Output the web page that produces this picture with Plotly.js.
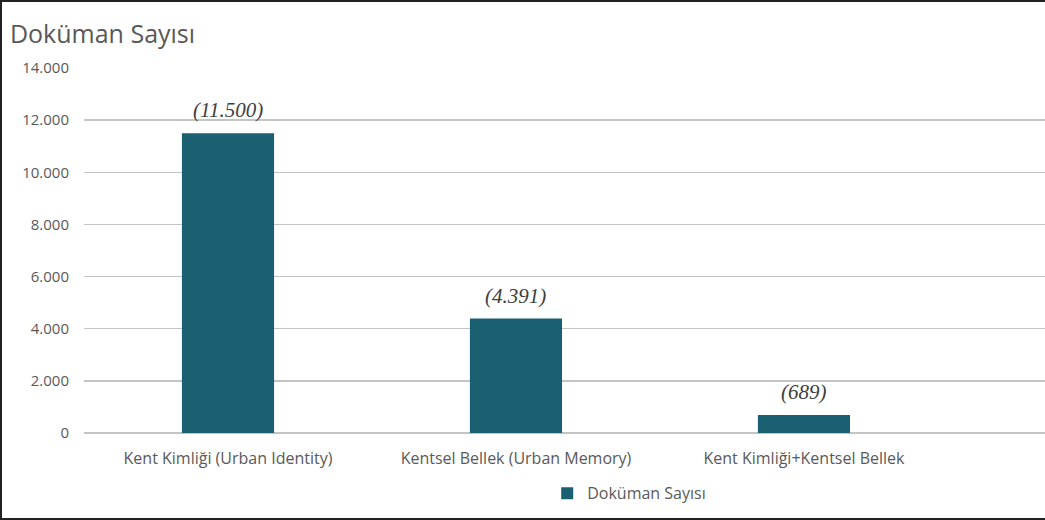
<!DOCTYPE html>
<html>
<head>
<meta charset="utf-8">
<script src="https://cdn.plot.ly/plotly-3.0.1.min.js"></script>
<style>
html,body{margin:0;padding:0;background:#fff;}
#frame{position:absolute;left:0;top:0;width:1045px;height:520px;box-sizing:border-box;border-left:2px solid #222;border-top:2px solid #222;border-bottom:2px solid #222;pointer-events:none;}
#chart{position:absolute;left:0;top:0;width:1045px;height:520px;}
</style>
</head>
<body>
<div id="chart"></div>
<div id="frame"></div>
<script>
const categories = ["Kent Kimliği (Urban Identity)", "Kentsel Bellek (Urban Memory)", "Kent Kimliği+Kentsel Bellek"];
const docCounts = [11500, 4391, 689];
const seriesName = "Doküman Sayısı";
const yTicks = [0, 2000, 4000, 6000, 8000, 10000, 12000, 14000];

function fmtTR(v) {
  return String(v).replace(/\B(?=(\d{3})+(?!\d))/g, ".");
}

const trace = {
  type: "bar",
  x: categories,
  y: docCounts,
  name: seriesName,
  marker: {color: "#1b5f73"},
  hoverinfo: "none"
};

const labelAnnotations = categories.map((c, i) => ({
  x: c, y: docCounts[i], xref: "x", yref: "y",
  text: "(" + fmtTR(docCounts[i]) + ")",
  showarrow: false, yanchor: "middle", yshift: 23,
  font: {family: "Liberation Serif, Times New Roman, serif", size: 21, color: "#404040", style: "italic"}
}));

const layout = {
  width: 1045, height: 520,
  separators: ",.",
  margin: {l: 84, r: 0, t: 68, b: 87},
  paper_bgcolor: "#fff", plot_bgcolor: "#fff",
  font: {family: "Open Sans, sans-serif", color: "#595959", size: 15},
  title: {text: "Doküman Sayısı", x: 0.0095, xanchor: "left", y: 0.934, yanchor: "middle",
          font: {family: "Open Sans, sans-serif", size: 25, color: "#595959"}},
  bargap: 0.68,
  xaxis: {type: "category", range: [-0.5, 2.837], showgrid: false, showline: false, zeroline: false,
          ticks: "", tickfont: {size: 16, color: "#595959"}, ticklabelstandoff: 14, fixedrange: true},
  yaxis: {range: [0, 14000], tickvals: yTicks, tickformat: ",", showgrid: true, gridcolor: "#c4c4c4", gridwidth: 1.5,
          zeroline: true, zerolinecolor: "#c4c4c4", zerolinewidth: 1.5, showline: false,
          ticks: "", ticklabelstandoff: 14, tickfont: {size: 15, color: "#595959"}, fixedrange: true},
  showlegend: true,
  legend: {orientation: "h", x: 0.482, xanchor: "left", y: -0.165, yanchor: "middle",
           font: {size: 16, color: "#595959"}},
  annotations: labelAnnotations
};

Plotly.newPlot("chart", [trace], layout, {displayModeBar: false, staticPlot: true});
</script>
</body>
</html>
